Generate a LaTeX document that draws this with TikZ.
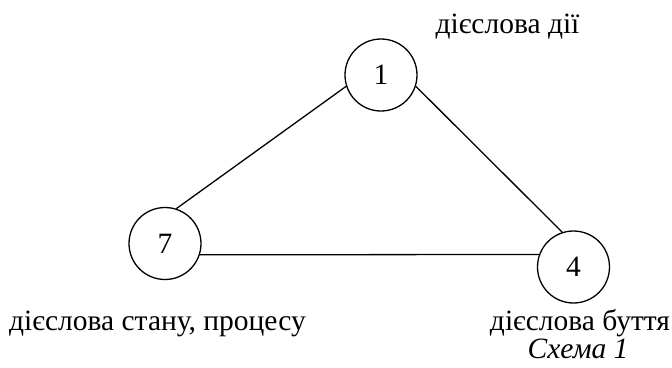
\documentclass[tikz,border=0pt]{standalone}
\usepackage{fontspec}
\setmainfont{Liberation Serif}
\begin{document}
\begin{tikzpicture}[x=1pt,y=-1pt,
  state/.style={circle, draw, line width=1.3pt, minimum size=72pt, inner sep=0pt,
    font=\fontsize{29.5}{34}\selectfont},
  lbl/.style={font=\fontsize{29.5}{34}\selectfont, inner sep=0pt, anchor=base},
  edge/.style={line width=1.3pt}]
\useasboundingbox (0,0) rectangle (672,367);
% the three verb groups
\node[state] (n1) at (381,75) {1};
\node[state] (n7) at (165,243.5) {7};
\node[state] (n4) at (573.5,267) {4};
% links between the groups
\draw[edge] (n1.198) -- (n7.72);
\draw[edge] (n1.-18) -- (n4.108);
\draw[edge] (n7.-18) -- (n4.160);
% captions
\node[lbl] (t1) at (507.5,33) {дієслова дії};
\node[lbl] (t7) at (157.5,330) {дієслова стану, процесу};
\node[lbl, text depth=0pt] (t4) at (580,330) {дієслова буття};
\node[lbl, text height=18pt, font=\fontsize{29.5}{34}\selectfont\itshape] (cap) at (578,358) {Схема 1};
\end{tikzpicture}
\end{document}
